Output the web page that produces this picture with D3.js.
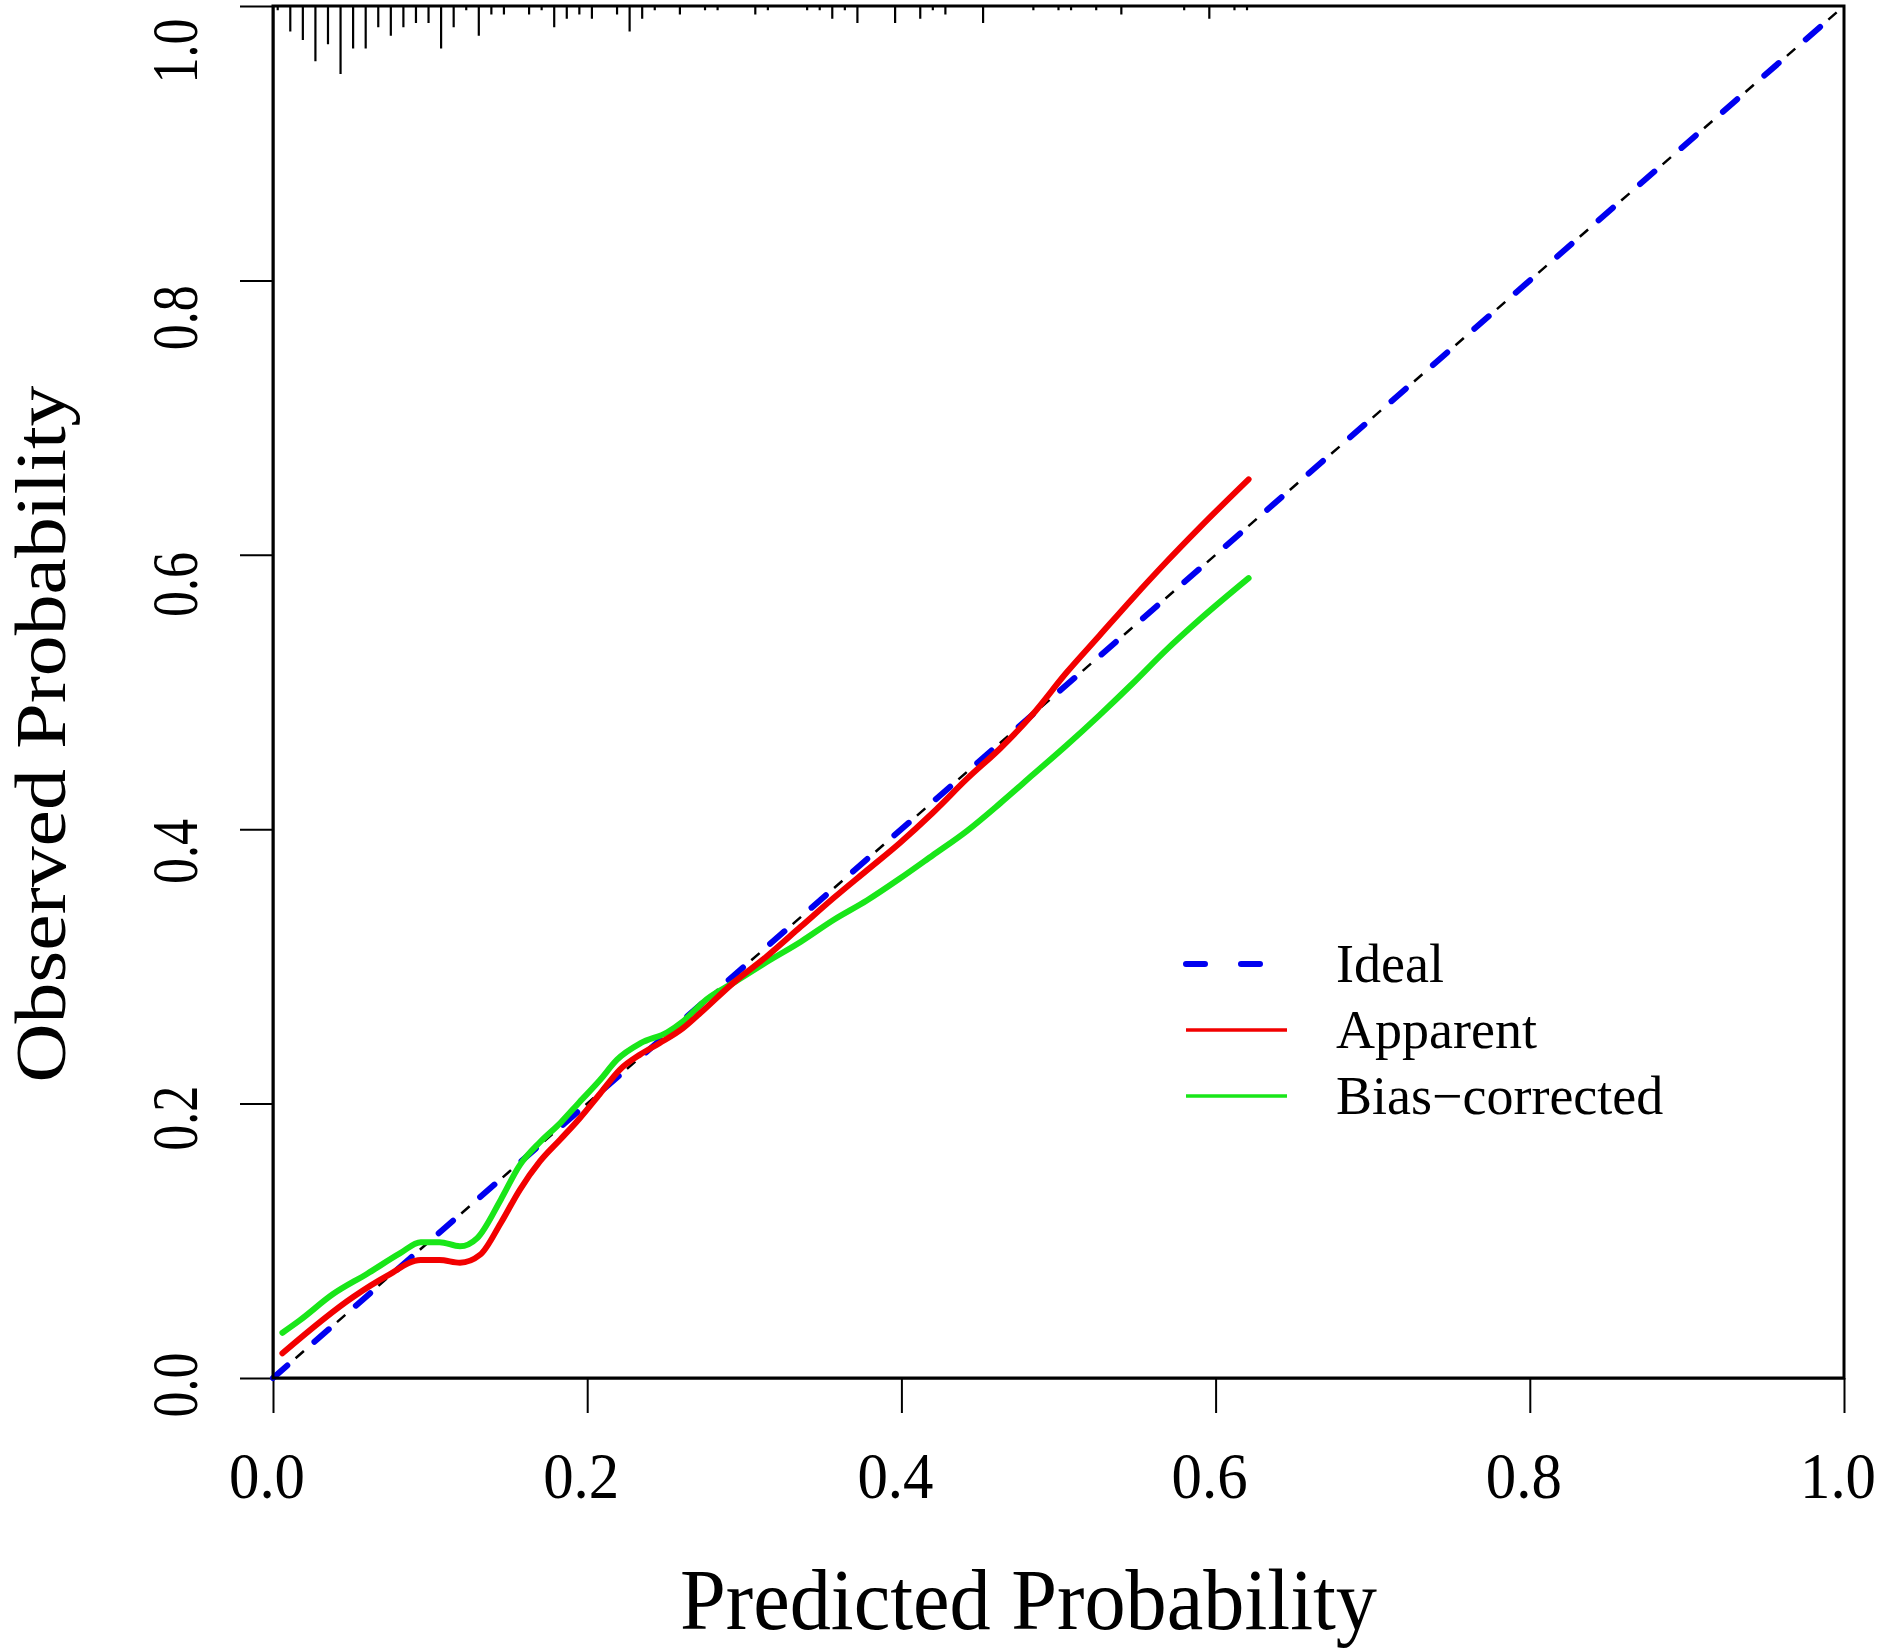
<!DOCTYPE html>
<html>
<head>
<meta charset="utf-8">
<script src="https://cdn.jsdelivr.net/npm/d3@7"></script>
<style>
  html, body { margin: 0; padding: 0; background: #fff; }
  svg { display: block; }
  text { font-family: "Liberation Serif", "Times New Roman", "DejaVu Serif", serif; fill: #000; }
</style>
</head>
<body>
<div id="root"></div>
<script>
// axis ticks and labels
const axisTicks = [0, 0.2, 0.4, 0.6, 0.8, 1.0];
const tickLabels = ['0.0', '0.2', '0.4', '0.6', '0.8', '1.0'];

// rug at top: predicted probability bins and their counts
const rugProb = [0.003, 0.011, 0.019, 0.027, 0.035, 0.043, 0.051, 0.059, 0.067, 0.075,
  0.083, 0.091, 0.099, 0.107, 0.115, 0.123, 0.131, 0.139, 0.147, 0.163,
  0.171, 0.179, 0.187, 0.195, 0.203, 0.219, 0.227, 0.235, 0.243, 0.259,
  0.275, 0.283, 0.307, 0.315, 0.340, 0.348, 0.356, 0.364, 0.372, 0.396,
  0.412, 0.420, 0.428, 0.452, 0.484, 0.500, 0.508, 0.524, 0.540, 0.580,
  0.596, 0.612, 0.620];
const rugCount = [1, 6, 8, 13, 9, 16, 10, 10, 5, 7,
  5, 4, 4, 10, 5, 1, 7, 2, 2, 2,
  1, 5, 3, 2, 3, 2, 6, 3, 1, 2,
  1, 1, 2, 1, 1, 1, 3, 1, 4, 4,
  3, 1, 2, 4, 1, 1, 1, 1, 2, 1,
  3, 1, 1];

// Apparent calibration curve
const apparentX = [0.006, 0.051, 0.072, 0.094, 0.106, 0.119, 0.132, 0.145, 0.157, 0.170,
  0.183, 0.195, 0.208, 0.221, 0.234, 0.246, 0.261, 0.272, 0.293, 0.314,
  0.336, 0.357, 0.378, 0.399, 0.420, 0.442, 0.463, 0.483, 0.505, 0.526,
  0.547, 0.568, 0.590, 0.621];
const apparentY = [0.018, 0.059, 0.074, 0.086, 0.086, 0.084, 0.090, 0.113, 0.137, 0.158,
  0.174, 0.189, 0.207, 0.225, 0.236, 0.244, 0.255, 0.266, 0.288, 0.307,
  0.329, 0.350, 0.370, 0.390, 0.412, 0.437, 0.459, 0.483, 0.514, 0.541,
  0.568, 0.594, 0.620, 0.655];

// Bias-corrected calibration curve
const biasX = [0.006, 0.017, 0.038, 0.060, 0.081, 0.094, 0.106, 0.119, 0.130, 0.145,
  0.157, 0.170, 0.183, 0.195, 0.208, 0.219, 0.234, 0.251, 0.261, 0.276,
  0.293, 0.314, 0.336, 0.357, 0.378, 0.399, 0.420, 0.442, 0.463, 0.484,
  0.505, 0.526, 0.547, 0.568, 0.590, 0.621];
const biasY = [0.033, 0.042, 0.061, 0.076, 0.091, 0.099, 0.099, 0.096, 0.102, 0.130,
  0.155, 0.172, 0.186, 0.201, 0.217, 0.232, 0.244, 0.252, 0.260, 0.276,
  0.288, 0.303, 0.318, 0.334, 0.348, 0.364, 0.381, 0.399, 0.419, 0.440,
  0.461, 0.483, 0.506, 0.530, 0.553, 0.583];

const legendNames = ['Ideal', 'Apparent', 'Bias\u2212corrected'];

const W = 1882, H = 1652;
const plot = { left: 273, right: 1844, top: 6, bottom: 1378 };
const colors = { ideal: '#0000f0', apparent: '#f20000', bias: '#19e619' };

const svg = d3.select('#root').append('svg')
  .attr('width', W)
  .attr('height', H)
  .attr('xmlns', 'http://www.w3.org/2000/svg');

svg.append('rect').attr('width', W).attr('height', H).attr('fill', '#fff');

const x = d3.scaleLinear().domain([0, 1]).range([plot.left, plot.right]);
const y = d3.scaleLinear().domain([0, 1]).range([plot.bottom, plot.top]);
// y tick labels sit a little below their ticks in the original
const yLab = d3.scaleLinear().domain([0, 1]).range([1385, 51]);
const rugLen = d3.scaleLinear().domain([0, 16]).range([0, 68]);

// axes (ticks only, labels drawn below)
const gx = svg.append('g')
  .attr('transform', `translate(0,${plot.bottom})`)
  .call(d3.axisBottom(x).tickValues(axisTicks).tickSize(35).tickSizeOuter(0).tickFormat(''));
gx.selectAll('line').attr('stroke', '#000').attr('stroke-width', 2);
gx.select('.domain').attr('stroke', '#000').attr('stroke-width', 2);

const gy = svg.append('g')
  .attr('transform', `translate(${plot.left},0)`)
  .call(d3.axisLeft(y).tickValues(axisTicks).tickSize(33).tickSizeOuter(0).tickFormat(''));
gy.selectAll('line').attr('stroke', '#000').attr('stroke-width', 2);
gy.select('.domain').attr('stroke', '#000').attr('stroke-width', 2);

svg.append('g').selectAll('text')
  .data(axisTicks)
  .join('text')
  .attr('x', d => x(d) - 6)
  .attr('y', 1498)
  .attr('text-anchor', 'middle')
  .attr('font-size', 65)
  .attr('textLength', 76)
  .attr('lengthAdjust', 'spacingAndGlyphs')
  .text((d, i) => tickLabels[i]);

svg.append('g').selectAll('text')
  .data(axisTicks)
  .join('text')
  .attr('transform', d => `translate(197,${yLab(d)}) rotate(-90)`)
  .attr('text-anchor', 'middle')
  .attr('font-size', 66)
  .attr('textLength', 65)
  .attr('lengthAdjust', 'spacingAndGlyphs')
  .text((d, i) => tickLabels[i]);

// axis titles
svg.append('text')
  .attr('x', 1028.5)
  .attr('y', 1629)
  .attr('text-anchor', 'middle')
  .attr('font-size', 86)
  .attr('textLength', 697)
  .attr('lengthAdjust', 'spacingAndGlyphs')
  .text('Predicted Probability');

svg.append('text')
  .attr('transform', 'translate(65,734) rotate(-90)')
  .attr('text-anchor', 'middle')
  .attr('font-size', 72)
  .attr('textLength', 697)
  .attr('lengthAdjust', 'spacingAndGlyphs')
  .text('Observed Probability');

// rug of predicted probabilities hanging from the top
svg.append('g').selectAll('line')
  .data(rugProb)
  .join('line')
  .attr('x1', d => x(d))
  .attr('x2', d => x(d))
  .attr('y1', y(1))
  .attr('y2', (d, i) => y(1) + rugLen(rugCount[i]))
  .attr('stroke', '#000')
  .attr('stroke-width', 2.2);

// ideal line: thin black dashed under thick blue dashed
const diag = [[0, 0], [1, 1]];
const diagLine = d3.line().x(d => x(d[0])).y(d => y(d[1]));

svg.append('path')
  .attr('d', diagLine(diag))
  .attr('fill', 'none')
  .attr('stroke', '#000')
  .attr('stroke-width', 2.5)
  .attr('stroke-dasharray', '0 30 11 14');

svg.append('path')
  .attr('d', diagLine(diag))
  .attr('fill', 'none')
  .attr('stroke', colors.ideal)
  .attr('stroke-width', 6)
  .attr('stroke-linecap', 'round')
  .attr('stroke-dasharray', '19 36');

// calibration curves
const curve = d3.line()
  .x(d => x(d[0]))
  .y(d => y(d[1]))
  .curve(d3.curveMonotoneX);

svg.append('path')
  .attr('d', curve(biasX.map((v, i) => [v, biasY[i]])))
  .attr('fill', 'none')
  .attr('stroke', colors.bias)
  .attr('stroke-width', 6)
  .attr('stroke-linecap', 'round')
  .attr('stroke-linejoin', 'round');

svg.append('path')
  .attr('d', curve(apparentX.map((v, i) => [v, apparentY[i]])))
  .attr('fill', 'none')
  .attr('stroke', colors.apparent)
  .attr('stroke-width', 6)
  .attr('stroke-linecap', 'round')
  .attr('stroke-linejoin', 'round');

// box round the plot region
svg.append('rect')
  .attr('x', plot.left)
  .attr('y', plot.top)
  .attr('width', plot.right - plot.left)
  .attr('height', plot.bottom - plot.top)
  .attr('fill', 'none')
  .attr('stroke', '#000')
  .attr('stroke-width', 3);

// legend
const legend = svg.append('g').attr('transform', 'translate(1186,964)');
const legendStyle = [
  { color: colors.ideal, width: 6, dash: '19 36', cap: 'round' },
  { color: colors.apparent, width: 3.5, dash: null, cap: 'butt' },
  { color: colors.bias, width: 3.5, dash: null, cap: 'butt' }
];
legendNames.forEach((name, i) => {
  const row = legend.append('g').attr('transform', `translate(0,${i * 66})`);
  const st = legendStyle[i];
  row.append('line')
    .attr('x1', 0)
    .attr('x2', 101)
    .attr('y1', 0)
    .attr('y2', 0)
    .attr('stroke', st.color)
    .attr('stroke-width', st.width)
    .attr('stroke-linecap', st.cap)
    .attr('stroke-dasharray', st.dash);
  row.append('text')
    .attr('x', 150)
    .attr('y', 18)
    .attr('font-size', 54)
    .text(name);
});
</script>
</body>
</html>
